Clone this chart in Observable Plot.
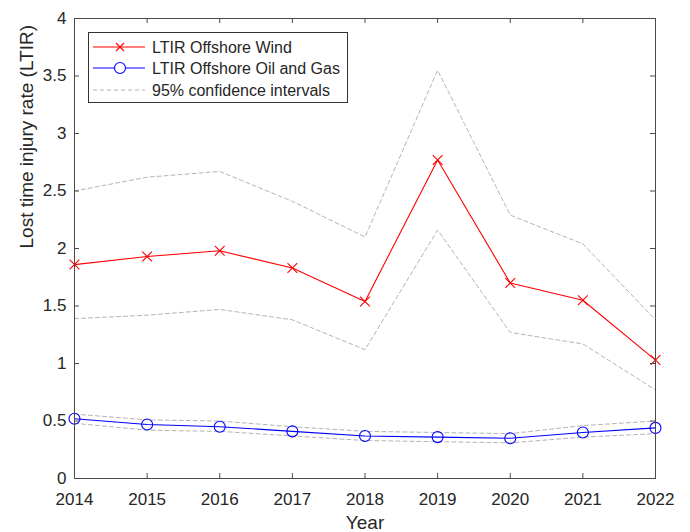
<!DOCTYPE html>
<html>
<head>
<meta charset="utf-8">
<script src="https://cdn.jsdelivr.net/npm/d3@7"></script>
<script src="https://cdn.jsdelivr.net/npm/@observablehq/plot@0.6"></script>
<style>
  html, body { margin: 0; padding: 0; background: #fff; }
  #chart { position: relative; width: 690px; height: 532px; font-family: "Liberation Sans", Arial, sans-serif; }
  #legend { position: absolute; left: 88px; top: 32px; }
</style>
</head>
<body>
<div id="chart"></div>
<script>
// Lost time injury rate per year, with 95% confidence bounds
const years = [2014, 2015, 2016, 2017, 2018, 2019, 2020, 2021, 2022];
const windLTIR = [1.86, 1.93, 1.98, 1.83, 1.54, 2.77, 1.70, 1.55, 1.03];
const windUpper = [2.50, 2.62, 2.67, 2.41, 2.10, 3.55, 2.29, 2.04, 1.38];
const windLower = [1.39, 1.42, 1.47, 1.38, 1.12, 2.16, 1.27, 1.17, 0.77];
const oilGasLTIR = [0.52, 0.47, 0.45, 0.41, 0.37, 0.36, 0.35, 0.40, 0.44];
const oilGasUpper = [0.56, 0.51, 0.50, 0.45, 0.41, 0.40, 0.39, 0.46, 0.50];
const oilGasLower = [0.48, 0.42, 0.41, 0.37, 0.33, 0.32, 0.31, 0.36, 0.39];

const xTicks = years;
const yTicks = [0, 0.5, 1, 1.5, 2, 2.5, 3, 3.5, 4];
const xLabel = "Year";
const yLabel = "Lost time injury rate (LTIR)";
const seriesNames = ["LTIR Offshore Wind", "LTIR Offshore Oil and Gas", "95% confidence intervals"];

const toRows = (vals) => years.map((year, i) => ({year, value: vals[i]}));

const axisColor = "#4a4a4a";
const ciColor = "#b4b4b4";
const windColor = "#ff0000";
const ogColor = "#0000ff";

const W = 690, H = 532;
const mL = 74, mR = 35, mT = 18, mB = 54;
const innerW = W - mL - mR, innerH = H - mT - mB;
const tickLen = 5;

const ciLine = (vals) => Plot.line(toRows(vals), {
  x: "year", y: "value", stroke: ciColor, strokeWidth: 1, strokeDasharray: "4,3"
});

const chart = Plot.plot({
  width: W,
  height: H,
  marginLeft: mL,
  marginRight: mR,
  marginTop: mT,
  marginBottom: mB,
  style: {fontFamily: "'Liberation Sans', Arial, sans-serif", fontSize: "17px", color: "#262626", background: "#fff"},
  x: {domain: [2014, 2022]},
  y: {domain: [0, 4]},
  marks: [
    // confidence bounds
    ciLine(windUpper),
    ciLine(windLower),
    ciLine(oilGasUpper),
    ciLine(oilGasLower),
    // series
    Plot.line(toRows(windLTIR), {x: "year", y: "value", stroke: windColor, strokeWidth: 1.1}),
    Plot.dot(toRows(windLTIR), {x: "year", y: "value", symbol: "times", r: 4.5, stroke: windColor, strokeWidth: 1.1}),
    Plot.line(toRows(oilGasLTIR), {x: "year", y: "value", stroke: ogColor, strokeWidth: 1.1}),
    Plot.dot(toRows(oilGasLTIR), {x: "year", y: "value", symbol: "circle", r: 5.5, stroke: ogColor, fill: "none", strokeWidth: 1.1}),
    // box and inward ticks on all four sides
    Plot.frame({stroke: axisColor, strokeWidth: 1}),
    Plot.tickX(xTicks, {x: d => d, insetTop: innerH - tickLen, stroke: axisColor}),
    Plot.tickX(xTicks, {x: d => d, insetBottom: innerH - tickLen, stroke: axisColor}),
    Plot.tickY(yTicks, {y: d => d, insetRight: innerW - tickLen, stroke: axisColor}),
    Plot.tickY(yTicks, {y: d => d, insetLeft: innerW - tickLen, stroke: axisColor}),
    // tick labels
    Plot.axisX(xTicks, {tickSize: 0, tickPadding: 14, tickFormat: d => String(d), label: null, fontSize: 17, fill: "#262626"}),
    Plot.axisY(yTicks, {tickSize: 0, tickPadding: 8, tickFormat: d => String(d), label: null, fontSize: 17, fill: "#262626"}),
    // axis titles
    Plot.text([xLabel], {frameAnchor: "bottom", dy: 44, text: d => d, fontSize: 19, fill: "#262626", lineAnchor: "middle"}),
    Plot.text([yLabel], {frameAnchor: "left", dx: -48, rotate: -90, text: d => d, fontSize: 19, fill: "#262626", lineAnchor: "middle"})
  ]
});

const container = document.getElementById("chart");
container.appendChild(chart);

// legend box inside the axes
const lw = 260, lh = 71;
const legend = d3.create("svg")
  .attr("id", "legend")
  .attr("width", lw)
  .attr("height", lh)
  .style("font-family", "'Liberation Sans', Arial, sans-serif");
legend.append("rect")
  .attr("x", 0.5).attr("y", 0.5).attr("width", lw - 1).attr("height", lh - 1)
  .attr("fill", "#fff").attr("stroke", "#333").attr("stroke-width", 1);

const rowsY = [15, 36, 58];
const styles = [
  {stroke: windColor, dash: null, marker: "x"},
  {stroke: ogColor, dash: null, marker: "o"},
  {stroke: ciColor, dash: "4,3", marker: null}
];
seriesNames.forEach((name, i) => {
  const y = rowsY[i];
  const s = styles[i];
  const g = legend.append("g");
  g.append("line")
    .attr("x1", 5).attr("x2", 57).attr("y1", y).attr("y2", y)
    .attr("stroke", s.stroke).attr("stroke-width", 1.1)
    .attr("stroke-dasharray", s.dash);
  if (s.marker === "x") {
    const r = 4;
    g.append("path")
      .attr("d", `M${32 - r},${y - r}L${32 + r},${y + r}M${32 - r},${y + r}L${32 + r},${y - r}`)
      .attr("stroke", s.stroke).attr("stroke-width", 1.1);
  } else if (s.marker === "o") {
    g.append("circle").attr("cx", 32).attr("cy", y).attr("r", 5.5)
      .attr("fill", "#fff").attr("stroke", s.stroke).attr("stroke-width", 1.1);
  }
  g.append("text")
    .attr("x", 64).attr("y", y).attr("dy", "0.35em")
    .attr("font-size", 16).attr("fill", "#262626")
    .text(name);
});
container.appendChild(legend.node());
</script>
</body>
</html>
